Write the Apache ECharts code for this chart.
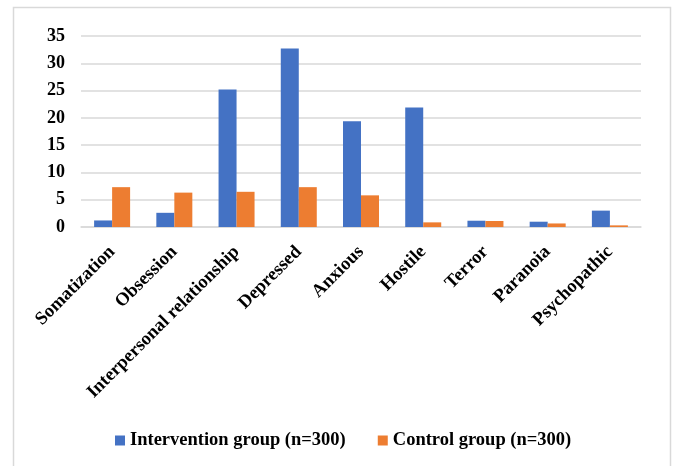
<!DOCTYPE html>
<html>
<head>
<meta charset="utf-8">
<script src="https://cdn.jsdelivr.net/npm/echarts@6/dist/echarts.min.js"></script>
<style>
  html, body { margin: 0; padding: 0; background: #ffffff; }
  #chart { width: 676px; height: 466px; }
</style>
</head>
<body>
<div id="chart"></div>
<script>
// SCL-90 factor scores by group
const categories = ['Somatization', 'Obsession', 'Interpersonal relationship', 'Depressed',
  'Anxious', 'Hostile', 'Terror', 'Paranoia', 'Psychopathic'];
const interventionValues = [1.2, 2.6, 25.2, 32.7, 19.4, 21.9, 1.15, 0.97, 3.0];
const controlValues = [7.3, 6.3, 6.45, 7.3, 5.8, 0.85, 1.1, 0.65, 0.3];
const seriesNames = ['Intervention group (n=300)', 'Control group (n=300)'];
const yTicks = { min: 0, max: 35, interval: 5 };

const serif = '"Liberation Serif", "Times New Roman", serif';
const chart = echarts.init(document.getElementById('chart'), null, { renderer: 'canvas' });

chart.setOption({
  animation: false,
  backgroundColor: '#ffffff',
  graphic: [{
    type: 'rect',
    shape: { x: 13.5, y: 7.5, width: 657, height: 470 },
    style: { fill: 'none', stroke: '#d9d9d9', lineWidth: 1.5 },
    silent: true
  }],
  grid: { left: 81, right: 35, top: 36, bottom: 239, containLabel: false },
  legend: {
    data: seriesNames,
    left: 110,
    top: 426,
    itemWidth: 10,
    itemHeight: 10,
    itemGap: 32,
    icon: 'rect',
    textStyle: { fontFamily: serif, fontWeight: 'bold', fontSize: 18.5, color: '#000000' }
  },
  xAxis: {
    type: 'category',
    data: categories,
    axisLine: { lineStyle: { color: '#d9d9d9', width: 1.5 } },
    axisTick: { show: false },
    axisLabel: {
      interval: 0,
      rotate: 45,
      margin: 22,
      fontFamily: serif,
      fontWeight: 'bold',
      fontSize: 18.5,
      color: '#000000'
    }
  },
  yAxis: {
    type: 'value',
    min: yTicks.min,
    max: yTicks.max,
    interval: yTicks.interval,
    axisLine: { show: false },
    axisTick: { show: false },
    splitLine: { lineStyle: { color: '#d9d9d9', width: 1.5 } },
    axisLabel: {
      margin: 16,
      fontFamily: serif,
      fontWeight: 'bold',
      fontSize: 18,
      color: '#000000'
    }
  },
  series: [
    {
      name: seriesNames[0],
      type: 'bar',
      data: interventionValues,
      barWidth: 18,
      barGap: '0%',
      itemStyle: { color: '#4472C4' }
    },
    {
      name: seriesNames[1],
      type: 'bar',
      data: controlValues,
      barWidth: 18,
      itemStyle: { color: '#ED7D31' }
    }
  ]
});
</script>
</body>
</html>
